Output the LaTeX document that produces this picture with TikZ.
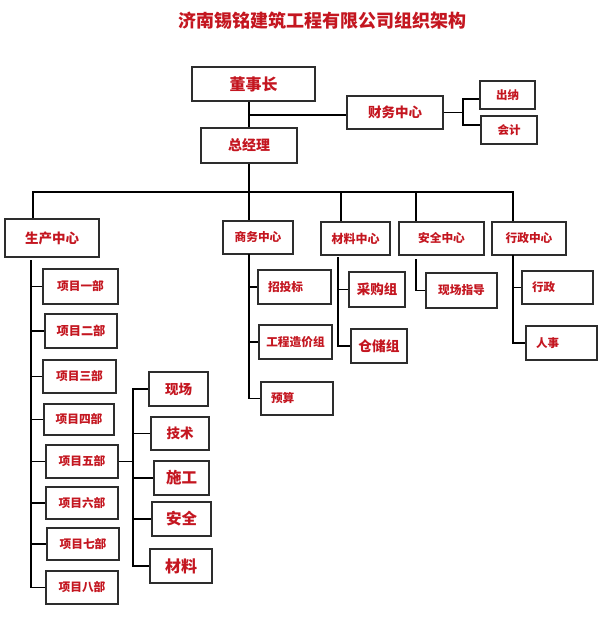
\documentclass[tikz,border=0pt]{standalone}
\usepackage{fontspec}
\newfontfamily\cjk{Noto Sans CJK SC}
\usepackage{tikz}
\usetikzlibrary{positioning}
\definecolor{orgred}{RGB}{196, 22, 32}
\definecolor{boxgray}{RGB}{45, 45, 45}

\begin{document}
\begin{tikzpicture}[x=1pt, y=-1pt,
  box/.style={draw=boxgray, line width=1.2pt, inner sep=0pt, text=orgred, align=center},
  boxsize/.style 2 args={minimum width=#1pt, minimum height=#2pt},
  fs/.style={font=\cjk\bfseries\fontsize{#1}{#1}\selectfont},
  lefttext/.style={align=left, text width=#1pt, inner xsep=10pt},
  link/.style={line width=1.7pt, black}]
  \fill [white] (0,0) rectangle (600,618);
  \useasboundingbox (0,0) rectangle (600,618);

  % title
  \node [fs=18, text=orgred] (title) at (322,21) {济南锡铭建筑工程有限公司组织架构};

  % nodes: top
  \node [box, boxsize={123}{34}, fs=16] (boss) at (253.5,84) {董事长};
  \node [box, boxsize={96}{33}, fs=13.5] (caiwu) at (395,112.5) {财务中心};
  \node [box, boxsize={55}{28}, fs=11.5] (chuna) at (507.5,95) {出纳};
  \node [box, boxsize={56}{28}, fs=11.5] (kuaiji) at (509,130) {会计};
  \node [box, boxsize={96}{35}, fs=14] (gm) at (249,145.5) {总经理};

  % nodes: centres
  \node [box, boxsize={94}{38}, fs=13.5] (prod) at (52,238) {生产中心};
  \node [box, boxsize={70}{33}, fs=11.7] (biz) at (258,237.5) {商务中心};
  \node [box, boxsize={69}{33}, fs=12] (mat) at (355.5,238.5) {材料中心};
  \node [box, boxsize={85}{33}, fs=11.7] (safe) at (441.5,238.5) {安全中心};
  \node [box, boxsize={74}{33}, fs=11.7] (adm) at (529,238.5) {行政中心};

  % nodes: projects
  \node [box, boxsize={75}{35}, fs=11.7] (p1) at (80.5,286.5) {项目一部};
  \node [box, boxsize={72}{34}, fs=12.2] (p2) at (81,331) {项目二部};
  \node [box, boxsize={73}{33}, fs=11.7] (p3) at (79.5,376.5) {项目三部};
  \node [box, boxsize={70}{31}, fs=11.7] (p4) at (79,419.5) {项目四部};
  \node [box, boxsize={72}{33}, fs=11.7] (p5) at (82,461.5) {项目五部};
  \node [box, boxsize={72}{32}, fs=11.7] (p6) at (82,503) {项目六部};
  \node [box, boxsize={72}{32}, fs=11.7] (p7) at (83,544) {项目七部};
  \node [box, boxsize={72}{33}, fs=11.7] (p8) at (82,587.5) {项目八部};

  % nodes: site teams
  \node [box, boxsize={59}{34}, fs=13.5] (s1) at (178.5,389) {现场};
  \node [box, boxsize={58}{33}, fs=13.5] (s2) at (180,433.5) {技术};
  \node [box, boxsize={55}{34}, fs=15.5] (s3) at (181.5,478) {施工};
  \node [box, boxsize={59}{34}, fs=15.5] (s4) at (181.5,519) {安全};
  \node [box, boxsize={62}{34}, fs=16] (s5) at (181,566) {材料};

  % nodes: other groups
  \node [box, boxsize={73}{34}, fs=11.7, lefttext=53] (b1) at (294.5,287) {招投标};
  \node [box, boxsize={73}{34}, fs=11.7] (b2) at (295.5,342) {工程造价组};
  \node [box, boxsize={72}{33}, fs=11.7, lefttext=52] (b3) at (297,398.5) {预算};
  \node [box, boxsize={56}{35}, fs=13.5] (m1) at (377,289.5) {采购组};
  \node [box, boxsize={56}{34}, fs=13.7] (m2) at (379,346) {仓储组};
  \node [box, boxsize={71}{35}, fs=11.7] (f1) at (461.5,290.5) {现场指导};
  \node [box, boxsize={71}{33}, fs=11.5, lefttext=51] (a1) at (557.5,287.5) {行政};
  \node [box, boxsize={71}{34}, fs=11.5, lefttext=51] (a2) at (561.5,343) {人事};

  % edges: top
  \coordinate (fin-j) at (249,115);
  \coordinate (fin-t) at (463,99);
  \coordinate (fin-b) at (463,125);
  \draw [link] (boss.south -| gm) -- (gm.north);
  \draw [link] (fin-j) -- (fin-j -| caiwu.west);
  \draw [link] (caiwu.east) -- (caiwu.east -| fin-t);
  \draw [link] (fin-t -| chuna.west) -- (fin-t) -- (fin-b) -- (fin-b -| kuaiji.west);

  % edges: bus
  \coordinate (bus-l) at (33,192);
  \coordinate (bus-r) at (513,192);
  \draw [link] (gm.south) -- (gm.south |- bus-l);
  \draw [link] (bus-l |- prod.north) -- (bus-l) -- (bus-r) -- (bus-r |- adm.north);
  \foreach \x/\n in {249/biz, 341/mat, 416/safe} {
    \coordinate (drop) at (\x,192);
    \draw [link] (drop) -- (drop |- \n.north);
  }

  % edges: projects
  \coordinate (p-top) at (31,260);
  \draw [link] (p-top) -- (p-top |- p8.west) -- (p8.west);
  \foreach \i in {1,...,7}
    \draw [link] (p-top |- p\i.west) -- (p\i.west);

  % edges: site teams
  \coordinate (s-top) at (133,384);
  \draw [link] (p5.east) -- (p5.east -| s-top);
  \draw [link] (s1.west) -- (s1.west -| s-top) -- (s5.west -| s-top) -- (s5.west);
  \foreach \i in {2,3,4}
    \draw [link] (s-top |- s\i.west) -- (s\i.west);

  % edges: other groups
  \coordinate (b-top) at (249,254);
  \draw [link] (b-top) -- (b-top |- b3.west) -- (b3.west);
  \foreach \i in {1,2}
    \draw [link] (b-top |- b\i.west) -- (b\i.west);
  \coordinate (m-top) at (338,257);
  \draw [link] (m-top) -- (m-top |- m2.west) -- (m2.west);
  \draw [link] (m-top |- m1.west) -- (m1.west);
  \coordinate (f-top) at (416,259);
  \draw [link] (f-top) -- (f-top |- f1.west) -- (f1.west);
  \coordinate (a-top) at (513,255);
  \draw [link] (a-top) -- (a-top |- a2.west) -- (a2.west);
  \draw [link] (a-top |- a1.west) -- (a1.west);
\end{tikzpicture}
\end{document}
